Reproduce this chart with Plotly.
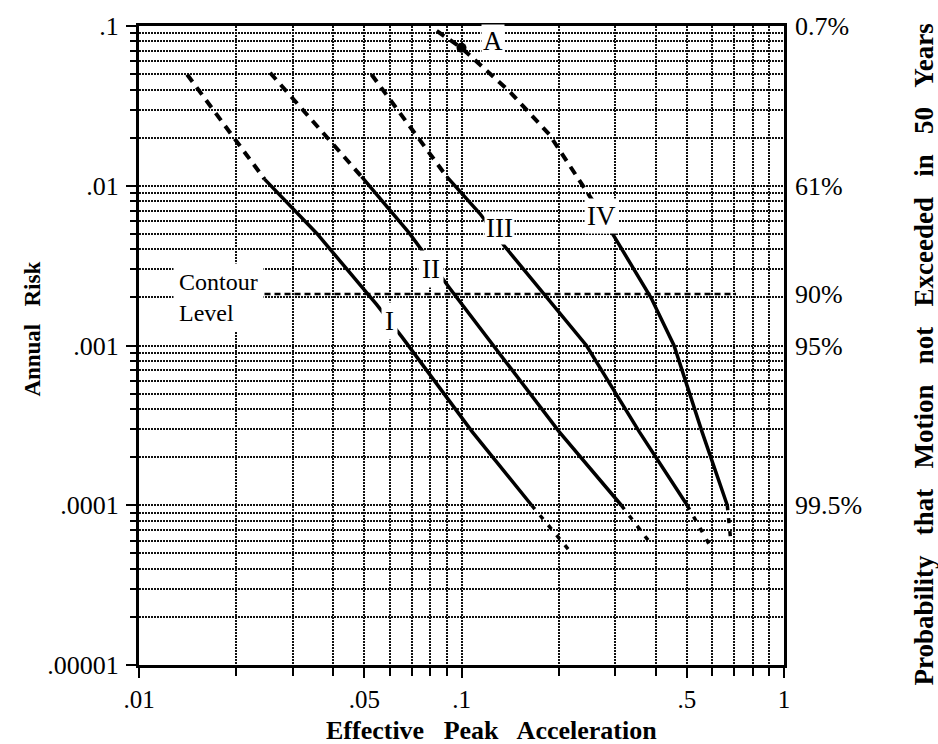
import plotly.graph_objects as go

# ---- hazard curves (effective peak acceleration vs annual risk) ----
# Curve I
c1_up_x = [0.0141, 0.0245]
c1_up_y = [0.0497, 0.0110]
c1_x = [0.0245, 0.0356, 0.0546, 0.0656, 0.108, 0.165]
c1_y = [0.0110, 0.00503, 0.0018, 0.00112, 0.000288, 0.0001]
c1_lo_x = [0.165, 0.216]
c1_lo_y = [0.0001, 0.000052]

# Curve II
c2_up_x = [0.0255, 0.049]
c2_up_y = [0.051, 0.0114]
c2_x = [0.049, 0.069, 0.0918, 0.201, 0.313]
c2_y = [0.0114, 0.00503, 0.00229, 0.000288, 0.0001]
c2_lo_x = [0.313, 0.39]
c2_lo_y = [0.0001, 0.000056]

# Curve III
c3_up_x = [0.0526, 0.09]
c3_up_y = [0.0497, 0.0114]
c3_x = [0.09, 0.114, 0.136, 0.244, 0.356, 0.501]
c3_y = [0.0114, 0.0067, 0.00418, 0.001, 0.000288, 0.0001]
c3_lo_x = [0.501, 0.598]
c3_lo_y = [0.0001, 0.000053]

# Curve IV
c4_up_x = [0.0838, 0.1, 0.141, 0.187, 0.255]
c4_up_y = [0.0931, 0.073, 0.0389, 0.021, 0.00807]
c4_x = [0.255, 0.293, 0.387, 0.456, 0.557, 0.667]
c4_y = [0.00807, 0.00503, 0.00199, 0.001, 0.000288, 0.0001]
c4_lo_x = [0.667, 0.685]
c4_lo_y = [0.0001, 0.000058]

# Point A on curve IV
point_a_x = [0.1]
point_a_y = [0.073]

# Contour level (annual risk)
contour_level = 0.0021
contour_x = [0.0245, 0.71]

# Axis ticks
x_tickvals = [0.01, 0.05, 0.1, 0.5, 1]
x_ticktext = [".01", ".05", ".1", ".5", "1"]
x_minor = [0.02, 0.03, 0.04, 0.06, 0.07, 0.08, 0.09,
           0.2, 0.3, 0.4, 0.6, 0.7, 0.8, 0.9]
y_tickvals = [0.00001, 0.0001, 0.001, 0.01, 0.1]
y_ticktext = [".00001", ".0001", ".001", ".01", ".1"]
y_minor = [m * d for d in (1e-5, 1e-4, 1e-3, 1e-2) for m in range(2, 10)]
prob_vals = [0.1, 0.01, 0.0021, 0.001, 0.0001]
prob_text = ["0.7%", "61%", "90%", "95%", "99.5%"]

SERIF = "Liberation Serif"
INK = "black"
GRID = "#111111"
SP = "\u00a0\u00a0 "  # wide word gap used in the axis titles

fig = go.Figure()

def add_line(x, y, width, dash):
    fig.add_trace(go.Scatter(
        x=x, y=y, mode="lines",
        line=dict(color=INK, width=width, dash=dash),
        hoverinfo="skip", showlegend=False))

for ux, uy, sx, sy, lx, ly in [
    (c1_up_x, c1_up_y, c1_x, c1_y, c1_lo_x, c1_lo_y),
    (c2_up_x, c2_up_y, c2_x, c2_y, c2_lo_x, c2_lo_y),
    (c3_up_x, c3_up_y, c3_x, c3_y, c3_lo_x, c3_lo_y),
    (c4_up_x, c4_up_y, c4_x, c4_y, c4_lo_x, c4_lo_y),
]:
    add_line(ux, uy, 4, "9px,7px")
    add_line(sx, sy, 3.5, "solid")
    add_line(lx, ly, 3.5, "5px,8px")

# contour level line
add_line(contour_x, [contour_level, contour_level], 2.5, "6px,4px")

# point A
fig.add_trace(go.Scatter(
    x=point_a_x, y=point_a_y, mode="markers",
    marker=dict(color=INK, size=10, symbol="circle"),
    hoverinfo="skip", showlegend=False))

# carrier for the probability axis
fig.add_trace(go.Scatter(
    x=[0.01], y=[0.1], yaxis="y2", mode="markers",
    marker=dict(opacity=0), hoverinfo="skip", showlegend=False))

grid_common = dict(showgrid=True, gridcolor=GRID, gridwidth=2.2,
                   griddash="2px,1px")

fig.update_layout(
    width=938, height=744,
    margin=dict(l=139, r=154, t=21, b=79),
    paper_bgcolor="white", plot_bgcolor="white",
    font=dict(family=SERIF, size=22, color=INK),
    xaxis=dict(
        type="log", range=[-2, 0],
        tickvals=x_tickvals, ticktext=x_ticktext,
        ticks="outside", ticklen=10, tickwidth=2, tickcolor=INK,
        showline=True, linecolor=INK, linewidth=3, mirror=True,
        zeroline=False,
        tickfont=dict(family=SERIF, size=25),
        minor=dict(tickvals=x_minor, ticks="outside", ticklen=8,
                   tickwidth=2, tickcolor=INK, **grid_common),
        **grid_common,
    ),
    yaxis=dict(
        type="log", range=[-5, -1],
        tickvals=y_tickvals, ticktext=y_ticktext,
        ticks="outside", ticklen=10, tickwidth=2, tickcolor=INK,
        showline=True, linecolor=INK, linewidth=3, mirror=True,
        zeroline=False, ticklabelstandoff=2,
        tickfont=dict(family=SERIF, size=26),
        minor=dict(tickvals=y_minor, ticks="outside", ticklen=6,
                   tickwidth=2, tickcolor=INK, **grid_common),
        **grid_common,
    ),
    yaxis2=dict(
        type="log", range=[-5, -1], overlaying="y", side="right",
        tickvals=prob_vals, ticktext=prob_text,
        ticks="", showgrid=False, showline=False, zeroline=False,
        ticklabelstandoff=10,
        tickfont=dict(family=SERIF, size=26),
    ),
)

def pix_note(text, px, py, size=22, bold=False, angle=0, bg=None,
             align="center", pad=1):
    fig.add_annotation(
        text=text, xref="paper", yref="paper",
        x=(px - 139) / 645, y=(665 - py) / 644,
        xanchor="center", yanchor="middle", showarrow=False,
        textangle=angle, align=align,
        font=dict(family=SERIF, size=size, color=INK,
                  weight="bold" if bold else "normal"),
        bgcolor=bg, borderpad=pad)

# axis titles
pix_note("Effective" + SP + "Peak" + SP + "Acceleration", 491, 731,
         size=26, bold=True)
pix_note("Annual" + SP + "Risk", 33, 327, size=23, bold=True, angle=-90)
pix_note(SP.join(["Probability", "that", "Motion", "not", "Exceeded",
                  "in", "50", "Years"]),
         924, 352, size=27, bold=True, angle=-90)

# curve labels on white patches
pix_note("A", 493, 36, size=27, bg="white", pad=1)
pix_note("I", 389, 318, size=27, bg="white", pad=3)
pix_note("II", 431, 266, size=27, bg="white", pad=3)
pix_note("III", 500, 225, size=27, bg="white", pad=1)
pix_note("IV", 601, 212, size=27, bg="white", pad=2)
pix_note("Contour<br>Level", 218, 295, size=24, bg="white", pad=5,
         align="left")

fig.write_html("out.html")
